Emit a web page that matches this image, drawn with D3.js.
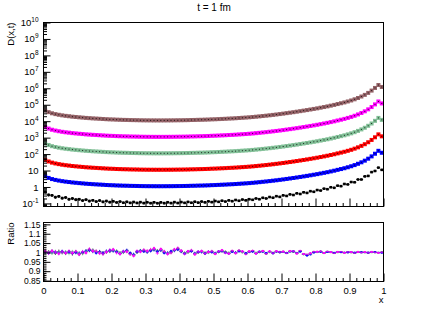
<!DOCTYPE html>
<html>
<head>
<meta charset="utf-8">
<script src="https://cdn.jsdelivr.net/npm/d3@7"></script>
<style>
body { margin: 0; background: #fff; }
svg text { font-family: "Liberation Sans", Arial, sans-serif; fill: #000; }
</style>
</head>
<body>
<script>
// 100 bins in x from 0 to 1
var nBins = 100

// D(x,t) shape
var shape = [4.47, 3.55, 3.02, 2.69, 2.45, 2.26, 2.11, 2.0, 1.88, 1.80,
  1.72, 1.65, 1.58, 1.53, 1.48, 1.44, 1.40, 1.36, 1.32, 1.29,
  1.27, 1.24, 1.22, 1.20, 1.19, 1.17, 1.16, 1.15, 1.135, 1.127,
  1.12, 1.117, 1.114, 1.112, 1.112, 1.114, 1.117, 1.12, 1.127, 1.135,
  1.14, 1.15, 1.16, 1.18, 1.19, 1.21, 1.22, 1.24, 1.26, 1.29,
  1.31, 1.34, 1.37, 1.40, 1.44, 1.47, 1.51, 1.56, 1.61, 1.66,
  1.72, 1.79, 1.87, 1.96, 2.06, 2.16, 2.28, 2.41, 2.55, 2.71,
  2.88, 3.08, 3.29, 3.52, 3.78, 4.07, 4.39, 4.73, 5.13, 5.56,
  6.03, 6.61, 7.24, 7.94, 8.81, 9.77, 11.0, 12.3, 13.8, 15.8,
  18.2, 21.4, 25.7, 31.6, 39.8, 52.5, 72.4, 105, 158, 120]

// smooth series: colour and vertical offset (decades)
var smoothColors = ['#0000ff', '#ff0000', '#80bf96', '#ff00ff', '#946267']
var smoothScale = [1, 10, 100, 1000, 10000]

// the black series, with its own fluctuations
var blackVals = [0.50, 0.33, 0.31, 0.24, 0.27, 0.21, 0.23, 0.18, 0.20, 0.17,
  0.18, 0.15, 0.17, 0.14, 0.155, 0.13, 0.15, 0.125, 0.14, 0.12,
  0.135, 0.115, 0.13, 0.11, 0.125, 0.108, 0.122, 0.107, 0.12, 0.105,
  0.118, 0.104, 0.117, 0.103, 0.116, 0.104, 0.118, 0.105, 0.12, 0.106,
  0.121, 0.108, 0.124, 0.11, 0.127, 0.112, 0.13, 0.116, 0.134, 0.12,
  0.14, 0.125, 0.146, 0.13, 0.153, 0.137, 0.162, 0.145, 0.172, 0.154,
  0.18, 0.166, 0.2, 0.18, 0.22, 0.2, 0.245, 0.222, 0.275, 0.25,
  0.31, 0.285, 0.355, 0.325, 0.41, 0.375, 0.475, 0.435, 0.555, 0.51,
  0.65, 0.605, 0.79, 0.73, 0.96, 0.89, 1.2, 1.12, 1.52, 1.43,
  2.0, 1.93, 2.85, 2.85, 4.4, 4.7, 8.0, 9.4, 15, 11]
var blackRelErr = [0.2, 0.18, 0.16, 0.15, 0.14, 0.13, 0.12, 0.12, 0.1, 0.1]

// ratio panel: deviations from 1, in units of 0.001
var ratioColors = ['#000000', '#946267', '#80bf96', '#0000ff', '#ff00ff']
var ratioDev = [
  [4, 2, 6, -3, 5, 1, -4, 3, -6, 2, -8, -3, 5, 14, 10, 4, 2, -5, 3, 8,
   12, 6, -4, 2, 9, -6, -14, 3, 7, 10, 5, 12, 18, 8, 15, 3, -5, 2, 13, 20,
   6, -4, 3, 9, -7, 2, 5, -3, 1, 4, -5, 3, 8, 2, -4, 6, -2, 9, 3, -6,
   4, 7, -3, 2, 6, -5, 3, -2, 5, 1, 3, -2, 6, 4, -3, 8, -10, -14, -6, 2,
   3, 5, -2, 4, 1, -3, 2, 3, -1, 2, 1, -2, 2, 0, 1, -1, 2, 1, -1, 0],
  [5, 3, 2, -2, 4, 3, -3, 2, -5, 3, -6, -2, 4, 15, 9, 5, 3, -4, 4, 9,
   11, 5, -3, 3, 8, -5, -13, 2, 8, 11, 4, 11, 17, 9, 14, 2, -4, 1, 12, 19,
   7, -3, 2, 8, -6, 1, 4, -4, 2, 5, -4, 4, 7, 3, -3, 7, -1, 8, 4, -5,
   3, 8, -4, 3, 7, -6, 4, -3, 4, 2, 3, -3, 7, 5, -2, 7, -9, -13, -5, 3,
   4, 5, -3, 4, 2, -3, 3, 2, -1, 1, 1, -2, 3, 1, 1, -1, 2, 1, -1, 1],
  [3, 1, -4, 5, 2, -2, 3, -5, 4, 1, -4, -6, 6, 10, 12, 2, -2, -3, 5, 6,
   10, 8, -2, 0, 7, -8, -12, 2, 10, 8, 6, 10, 15, 10, 12, 4, -6, 3, 11, 18,
   8, -2, 1, 10, -5, 0, 6, -4, -1, 5, -4, 2, 9, 4, -2, 5, -3, 8, 1, -5,
   5, 6, -2, 3, 5, -4, 2, -3, 6, 2, 4, -1, 5, 3, -4, 6, -9, -12, -8, 3,
   2, 4, -3, 3, 2, -2, 1, 3, -1, 2, 0, -2, 2, 1, 0, -1, 1, 0, -1, 1],
  [2, -3, 4, 1, -2, 5, -1, 3, -4, 0, -5, 2, 8, 12, 6, -2, 4, -3, 6, 10,
   8, 3, -6, 5, 12, -3, -10, 4, 9, 6, 2, 9, 14, 5, 11, -2, -3, 6, 10, 16,
   4, -6, 5, 7, -4, 3, 2, -5, 4, 2, -3, 5, 6, -1, -6, 4, 0, 7, 5, -4,
   2, 5, -5, 4, 3, -3, 5, -4, 3, 2, 2, -3, 4, 6, -2, 5, -8, -16, -12, 0,
   2, 4, -1, 3, 2, -2, 3, 2, 0, 1, 2, -1, 1, 1, 0, -1, 1, 2, 0, -1],
  [6, -4, 8, 2, -6, 4, -3, 7, -2, 5, -10, 4, -2, 18, 8, 6, -4, -8, 2, 12,
   16, -2, -8, 6, 4, -10, -18, 8, 4, 14, 8, 16, 22, -4, 18, 6, -8, -2, 16, 24,
   10, -8, 6, 12, -10, 4, 8, -6, 3, 7, -8, 6, 12, -3, -6, 9, -4, 11, 6, -9,
   6, 10, -6, 4, 8, -7, 6, -4, 7, 3, 5, -4, 8, 7, -6, 10, -8, -10, -4, 4,
   4, 6, -3, 5, 2, -4, 3, 4, -2, 3, 2, -3, 3, -1, 2, -2, 3, 1, -2, 1]
]
// ratio error per block of ten bins, units of 0.001
var ratioErr = [10, 10, 9, 9, 8, 7, 6, 5, 4, 3]

var yTicksMajor = d3.range(-1, 11)
var ratioTicks = [0.85, 0.9, 0.95, 1, 1.05, 1.1, 1.15]
var xTicks = d3.range(0, 11).map(function(d){ return d / 10 })

var width = 427, height = 311
var L = 43.5, R = 383.5
var T1 = 22.5, B1 = 206.5
var T2 = 222.5, B2 = 281.5

var svg = d3.select('body').append('svg').attr('width', width).attr('height', height)

var x = d3.scaleLinear().domain([0, 1]).range([L, R])
var y = d3.scaleLog().domain([0.065, 1e10]).range([B1, T1])
var yr = d3.scaleLinear().domain([0.845, 1.16]).range([B2, T2])

var bins = d3.range(nBins).map(function(i){
  return {lo: i / nBins, hi: (i + 1) / nBins, c: (i + 0.5) / nBins}
})

// ---- top panel marks
var topG = svg.append('g')

smoothColors.forEach(function(col, k){
  var g = topG.append('g')
  bins.forEach(function(b, i){
    var v = shape[i] * smoothScale[k]
    g.append('rect')
      .attr('x', x(b.c) - 2).attr('y', y(v) - 2)
      .attr('width', 4).attr('height', 4)
      .attr('fill', col)
    g.append('rect')
      .attr('x', x(b.c) - 0.5).attr('y', y(v) - 0.5)
      .attr('width', 1).attr('height', 1)
      .attr('fill', '#000').attr('opacity', 0.8)
  })
})

var gb = topG.append('g').attr('stroke', '#000').attr('stroke-width', 1)
bins.forEach(function(b, i){
  var v = blackVals[i], e = blackRelErr[Math.floor(i / 10)]
  gb.append('line').attr('x1', x(b.lo)).attr('x2', x(b.hi)).attr('y1', y(v)).attr('y2', y(v))
  gb.append('line').attr('x1', x(b.c)).attr('x2', x(b.c)).attr('y1', y(v * (1 - e))).attr('y2', y(v * (1 + e)))
  gb.append('rect').attr('x', x(b.c) - 1.3).attr('y', y(v) - 1.3)
    .attr('width', 2.6).attr('height', 2.6).attr('fill', '#000').attr('stroke', 'none')
})

// ---- ratio panel marks
ratioColors.forEach(function(col, k){
  var g = svg.append('g').attr('stroke', col).attr('fill', col).attr('stroke-width', 0.7)
  bins.forEach(function(b, i){
    var r = 1 + ratioDev[k][i] / 1000, e = ratioErr[Math.floor(i / 10)] / 1000
    g.append('line').attr('x1', x(b.lo)).attr('x2', x(b.hi)).attr('y1', yr(r)).attr('y2', yr(r))
    g.append('line').attr('x1', x(b.c)).attr('x2', x(b.c)).attr('y1', yr(r - e)).attr('y2', yr(r + e))
    if (k > 0 && i % 2 == k % 2) {
      g.append('rect').attr('x', x(b.c) - 1).attr('y', yr(r) - 1)
        .attr('width', 2).attr('height', 2).attr('stroke', 'none')
    }
  })
})

// ---- axes
function supLabel(sel){
  sel.each(function(d){
    var t = d3.select(this).text('')
    var e = Math.round(Math.log10(d))
    if (e == 0) { t.text('1'); return }
    if (e == 1) { t.text('10'); return }
    t.append('tspan').text('10')
    t.append('tspan').attr('dy', -4).attr('font-size', 6.5).text(e)
  })
}

var minorLog = []
yTicksMajor.forEach(function(e){
  d3.range(2, 10).forEach(function(m){
    var v = m * Math.pow(10, e - 1)
    if (v >= y.domain()[0] && v <= 1e10) minorLog.push(v)
  })
})

svg.append('g').attr('transform', 'translate(' + L + ',0)')
  .call(d3.axisLeft(y).tickValues(minorLog).tickSize(-3.5).tickFormat(''))
svg.append('g').attr('transform', 'translate(' + L + ',0)')
  .call(d3.axisLeft(y).tickValues(yTicksMajor.map(function(e){ return Math.pow(10, e) })).tickSize(-7).tickPadding(5))
  .call(function(g){ g.selectAll('text').call(supLabel) })

var xMinor = d3.range(0, 51).map(function(d){ return d / 50 })
  .filter(function(d){ return Math.round(d * 50) % 5 != 0 })

svg.append('g').attr('transform', 'translate(0,' + B1 + ')')
  .call(d3.axisBottom(x).tickValues(xMinor).tickSize(-3.5).tickFormat(''))
svg.append('g').attr('transform', 'translate(0,' + B1 + ')')
  .call(d3.axisBottom(x).tickValues(xTicks).tickSize(-8).tickFormat(''))

var rMinor = d3.range(85, 116).map(function(d){ return d / 100 })
svg.append('g').attr('transform', 'translate(' + L + ',0)')
  .call(d3.axisLeft(yr).tickValues(rMinor).tickSize(-3).tickFormat(''))
var rAxis = svg.append('g').attr('transform', 'translate(' + L + ',0)')
  .call(d3.axisLeft(yr).tickValues(ratioTicks).tickSize(-7).tickPadding(3).tickFormat(d3.format('')))

svg.append('g').attr('transform', 'translate(0,' + B2 + ')')
  .call(d3.axisBottom(x).tickValues(xMinor).tickSize(-3.5).tickFormat(''))
svg.append('g').attr('transform', 'translate(0,' + B2 + ')')
  .call(d3.axisBottom(x).tickValues(xTicks).tickSize(-8).tickPadding(6).tickFormat(d3.format('')))

svg.selectAll('.domain').remove()
svg.selectAll('.tick line').attr('stroke', '#000')
svg.selectAll('.tick text').attr('font-size', 9.5).attr('font-family', '"Liberation Sans", Arial, sans-serif')
rAxis.selectAll('.tick text').attr('font-size', 8.5)

// frames
svg.append('rect').attr('x', L).attr('y', T1).attr('width', R - L).attr('height', B1 - T1)
  .attr('fill', 'none').attr('stroke', '#000')
svg.append('rect').attr('x', L).attr('y', T2).attr('width', R - L).attr('height', B2 - T2)
  .attr('fill', 'none').attr('stroke', '#000')

// titles
svg.append('text').attr('x', 214).attr('y', 11).attr('text-anchor', 'middle').attr('font-size', 10).text('t = 1 fm')
svg.append('text').attr('transform', 'translate(14,' + T1 + ') rotate(-90)')
  .attr('text-anchor', 'end').attr('font-size', 9.5).text('D(x,t)')
svg.append('text').attr('transform', 'translate(14,' + T2 + ') rotate(-90)')
  .attr('text-anchor', 'end').attr('font-size', 9.5).text('Ratio')
svg.append('text').attr('x', R).attr('y', 303).attr('text-anchor', 'end').attr('font-size', 9.5).text('x')
</script>
</body>
</html>
